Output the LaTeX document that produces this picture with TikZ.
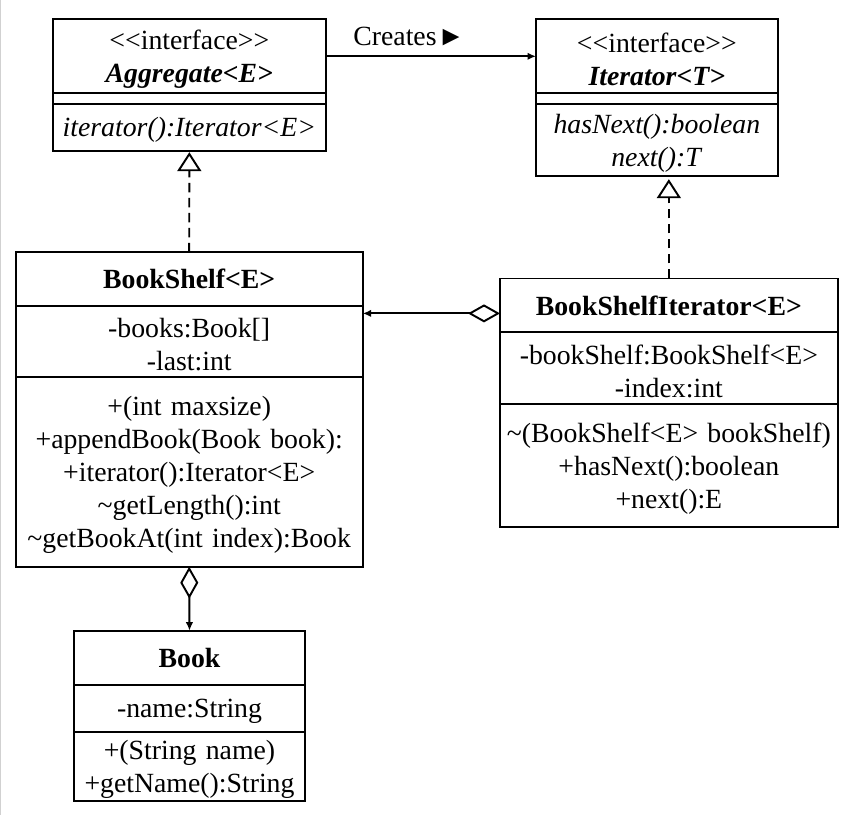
\documentclass[tikz,border=0pt]{standalone}
\usepackage{fontspec}
\setmainfont{Liberation Serif}
\usepackage{tikz}
\usetikzlibrary{positioning,arrows.meta}
\newcommand\umltext{\fontsize{15.8}{18.7}\selectfont}
\tikzset{
	classbase/.style={draw, line width=1.1pt, inner sep=0pt, outer sep=0pt, align=center, font=\umltext, minimum width=#1, text width=#1},
	classbox/.style={classbase=#1, execute at end node={\par\kern-3.4pt}},
	realize/.style={line width=1.1pt, dash pattern=on 0.19cm off 0.11cm, -{Triangle[open,length=0.38cm,width=0.48cm]}},
	aggr/.style={line width=1.1pt, {Diamond[open,length=0.64cm,width=0.36cm]}-{Latex[length=0.17cm,width=0.15cm]}},
	creates/.style={line width=1.1pt, -{Latex[length=0.17cm,width=0.15cm]}}
}

\begin{document}
\begin{tikzpicture}
			%%%%% START %%%%%
			
			\useasboundingbox (0, 0) rectangle (17.06, 16.3);
			\fill[black!18] (0, 0) rectangle (0.03, 16.3);
			
			% Aggregate
			\node[classbox=5.466cm, minimum height=1.48cm, anchor=north] (agghead) at (3.787, 15.914) {<{}<interface>{}>\\\textbf{\textit{Aggregate<E>}}};
			\node[classbase=5.466cm, minimum height=0.208cm, below=0pt of agghead] (aggattr) {};
			\node[classbox=5.466cm, minimum height=0.94cm, below=0pt of aggattr] (aggops) {\textit{iterator():Iterator<E>}};
			
			% Iterator
			\node[classbox=4.834cm, minimum height=1.48cm, anchor=north] (ithead) at (13.137, 15.914) {<{}<interface>{}>\\\textbf{\textit{Iterator<T>}}};
			\node[classbase=4.834cm, minimum height=0.22cm, below=0pt of ithead] (itattr) {};
			\node[classbox=4.834cm, minimum height=1.428cm, below=0pt of itattr] (itops) {\textit{hasNext():boolean}\\\textit{next():T}};
			
			% BookShelf
			\node[classbox=6.94cm, minimum height=1.068cm, anchor=north] (bshead) at (3.784, 11.254) {\textbf{BookShelf<E>}};
			\node[classbox=6.94cm, minimum height=1.42cm, below=0pt of bshead] (bsattr) {-books:Book[]\\-last:int};
			\node[classbox=6.94cm, minimum height=3.8cm, below=0pt of bsattr] (bsops) {+(int maxsize)\\+appendBook(Book book):\\+iterator():Iterator<E>\\\textasciitilde getLength():int\\\textasciitilde getBookAt(int index):Book};
			
			% BookShelfIterator
			\node[classbox=6.754cm, minimum height=1.076cm, anchor=north] (bsihead) at (13.377, 10.73) {\textbf{BookShelfIterator<E>}};
			\node[classbox=6.754cm, minimum height=1.434cm, below=0pt of bsihead] (bsiattr) {-bookShelf:BookShelf<E>\\-index:int};
			\node[classbox=6.754cm, minimum height=2.454cm, below=0pt of bsiattr] (bsiops) {\textasciitilde(BookShelf<E> bookShelf)\\+hasNext():boolean\\+next():E};
			
			% Book
			\node[classbox=4.62cm, minimum height=1.092cm, anchor=north] (bookhead) at (3.79, 3.686) {\textbf{Book}};
			\node[classbox=4.62cm, minimum height=0.934cm, below=0pt of bookhead] (bookattr) {-name:String};
			\node[classbox=4.62cm, minimum height=1.386cm, below=0pt of bookattr] (bookops) {+(String name)\\+getName():String};
			
			% links
			\draw[creates] (agghead.east) -- (ithead.west);
			\node[font=\umltext, inner sep=0pt, anchor=west] (createslabel) at (7.06, 15.58) {Creates\kern0.5pt►};
			
			\draw[realize, shorten >=0.03cm] (bshead.north) -- (aggops.south);
			\draw[realize, shorten >=0.07cm] (bsihead.north) -- (bsihead.north |- itops.south);
			
			\coordinate (bsiside) at ([yshift=-0.16cm]bsihead.west);
			\draw[aggr] (bsiside) -- (bsiside -| bsattr.east);
			\draw[aggr] (bsops.south) -- (bookhead.north);
			
			%%%%% END %%%%%
\end{tikzpicture}
\end{document}
